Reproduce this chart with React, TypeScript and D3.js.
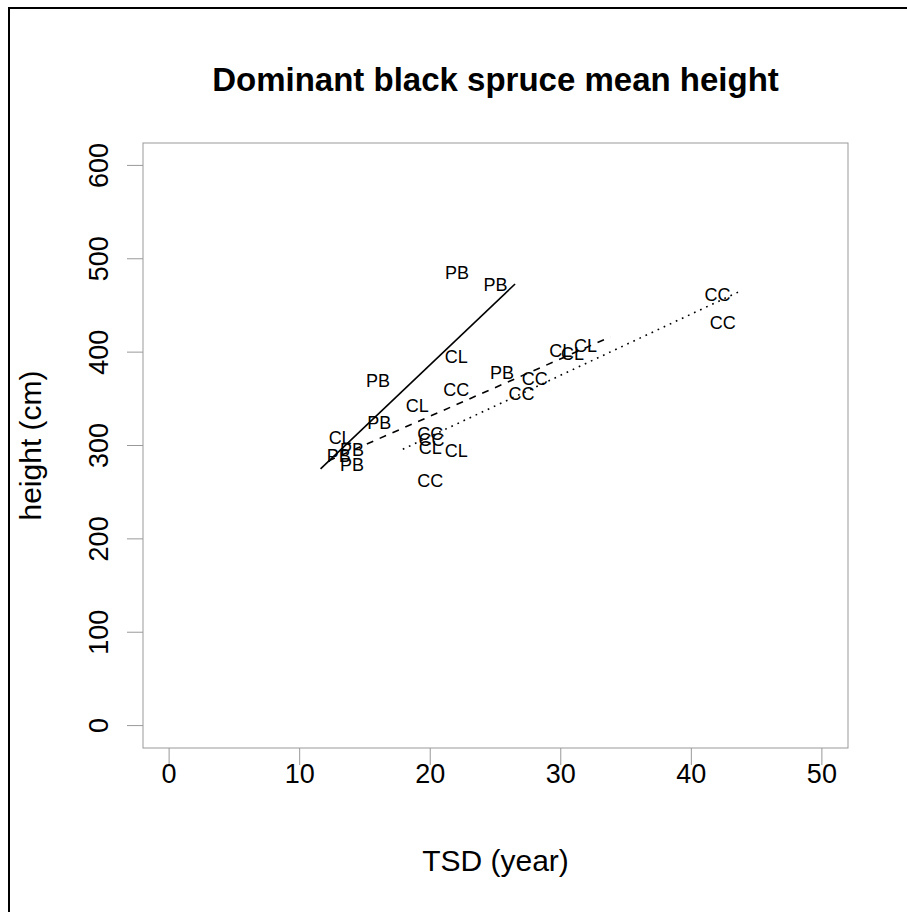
import React from 'react'
import * as d3 from 'd3'

const width = 907
const height = 912
const plot = {left: 143, right: 848, top: 143, bottom: 748}

// point labels (site type), stand age since disturbance, mean height
const sites = ['PB', 'PB', 'CL', 'PB', 'CL', 'PB', 'PB', 'PB', 'PB', 'CL', 'CC', 'PB',
  'CC', 'CC', 'CL', 'CL', 'CL', 'CC', 'CC', 'CL', 'CL', 'CC', 'CC', 'CC']
const tsd = [22.05, 25.0, 22.0, 16.0, 13.1, 13.0, 14.0, 14.0, 16.1, 19.0, 22.0, 25.5,
  28.0, 27.0, 30.0, 30.9, 31.9, 20.0, 20.1, 20.0, 22.0, 20.0, 42.0, 42.4]
const heights = [485, 472, 395, 369, 308, 289, 295, 279, 324, 343, 360, 378,
  372, 356, 402, 398, 407, 313, 306, 298, 294, 262, 462, 431]

// fitted lines per site
const fitSites = ['PB', 'CL', 'CC']
const fitX0 = [11.6, 12.2, 17.9]
const fitX1 = [26.5, 33.8, 43.6]
const fitY0 = [275, 283.5, 296]
const fitY1 = [473, 416.3, 464.4]
const fitDash = ['none', '7,7', '1.7,5']

const xTicks = [0, 10, 20, 30, 40, 50]
const yTicks = [0, 100, 200, 300, 400, 500, 600]

const font = '"Liberation Sans", Arial, sans-serif'

export default function App() {
  const x = d3.scaleLinear().domain([-2, 52]).range([plot.left, plot.right])
  const y = d3.scaleLinear().domain([-24, 624]).range([plot.bottom, plot.top])
  const line = d3.line<[number, number]>().x(d => x(d[0])).y(d => y(d[1]))
  const axisCol = '#999'

  return (
    <svg width={width} height={height}
      style={{position: 'absolute', left: 0, top: 0, background: '#fff', fontFamily: font}}>
      <rect x={9} y={8} width={1000} height={1000} fill="none" stroke="#000" strokeWidth={2} />
      <text x={(plot.left + plot.right) / 2} y={91} textAnchor="middle" fontSize={33} fontWeight="bold">
        Dominant black spruce mean height
      </text>
      <rect x={plot.left} y={plot.top} width={plot.right - plot.left} height={plot.bottom - plot.top}
        fill="none" stroke={axisCol} strokeWidth={1} />
      {xTicks.map(t => (
        <g key={'x' + t}>
          <line x1={x(t)} x2={x(t)} y1={plot.bottom} y2={plot.bottom + 17} stroke={axisCol} />
          <text x={x(t)} y={783} textAnchor="middle" fontSize={27}>{t}</text>
        </g>
      ))}
      {yTicks.map(t => (
        <g key={'y' + t}>
          <line x1={plot.left - 16} x2={plot.left} y1={y(t)} y2={y(t)} stroke={axisCol} />
          <text transform={`translate(108,${y(t)}) rotate(-90)`} textAnchor="middle" fontSize={27}>{t}</text>
        </g>
      ))}
      <text x={(plot.left + plot.right) / 2} y={871} textAnchor="middle" fontSize={30}>TSD (year)</text>
      <text transform={`translate(41,${(plot.top + plot.bottom) / 2}) rotate(-90)`} textAnchor="middle" fontSize={30}>
        height (cm)
      </text>
      {fitSites.map((s, i) => (
        <path key={s} d={line([[fitX0[i], fitY0[i]], [fitX1[i], fitY1[i]]]) || ''}
          stroke="#000" strokeWidth={1.6} fill="none"
          strokeDasharray={fitDash[i] === 'none' ? undefined : fitDash[i]} />
      ))}
      {sites.map((s, i) => (
        <text key={i} x={x(tsd[i])} y={y(heights[i])} dy="0.35em" textAnchor="middle" fontSize={18}>{s}</text>
      ))}
    </svg>
  )
}
